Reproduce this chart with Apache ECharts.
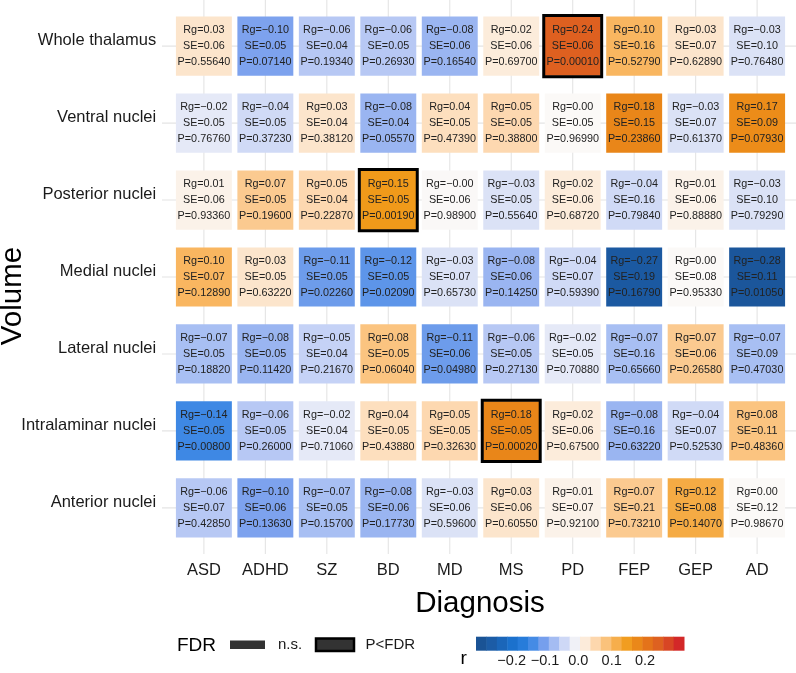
<!DOCTYPE html>
<html><head><meta charset="utf-8">
<script src="https://cdn.jsdelivr.net/npm/echarts@6/dist/echarts.min.js"></script>
<style>html,body{margin:0;padding:0;background:#fff}#c{width:796px;height:673px}</style>
</head><body><div id="c"></div>
<script>
const diagnoses = ['ASD','ADHD','SZ','BD','MD','MS','PD','FEP','GEP','AD'];
const regions = ['Whole thalamus','Ventral nuclei','Posterior nuclei','Medial nuclei','Lateral nuclei','Intralaminar nuclei','Anterior nuclei'];

const rgValues = [
  [0.03,-0.10,-0.06,-0.06,-0.08,0.02,0.24,0.10,0.03,-0.03],
  [-0.02,-0.04,0.03,-0.08,0.04,0.05,0.00,0.18,-0.03,0.17],
  [0.01,0.07,0.05,0.15,-0.001,-0.03,0.02,-0.04,0.01,-0.03],
  [0.10,0.03,-0.11,-0.12,-0.03,-0.08,-0.04,-0.27,0.00,-0.28],
  [-0.07,-0.08,-0.05,0.08,-0.11,-0.06,-0.02,-0.07,0.07,-0.07],
  [-0.14,-0.06,-0.02,0.04,0.05,0.18,0.02,-0.08,-0.04,0.08],
  [-0.06,-0.10,-0.07,-0.08,-0.03,0.03,0.01,0.07,0.12,0.00]
];
const seValues = [
  [0.06,0.05,0.04,0.05,0.06,0.06,0.06,0.16,0.07,0.10],
  [0.05,0.05,0.04,0.04,0.05,0.05,0.05,0.15,0.07,0.09],
  [0.06,0.05,0.04,0.05,0.06,0.05,0.06,0.16,0.06,0.10],
  [0.07,0.05,0.05,0.05,0.07,0.06,0.07,0.19,0.08,0.11],
  [0.05,0.05,0.04,0.05,0.06,0.05,0.05,0.16,0.06,0.09],
  [0.05,0.05,0.04,0.05,0.05,0.05,0.06,0.16,0.07,0.11],
  [0.07,0.06,0.05,0.06,0.06,0.06,0.07,0.21,0.08,0.12]
];
const pValues = [
  [0.55640,0.07140,0.19340,0.26930,0.16540,0.69700,0.00010,0.52790,0.62890,0.76480],
  [0.76760,0.37230,0.38120,0.05570,0.47390,0.38800,0.96990,0.23860,0.61370,0.07930],
  [0.93360,0.19600,0.22870,0.00190,0.98900,0.55640,0.68720,0.79840,0.88880,0.79290],
  [0.12890,0.63220,0.02260,0.02090,0.65730,0.14250,0.59390,0.16790,0.95330,0.01050],
  [0.18820,0.11420,0.21670,0.06040,0.04980,0.27130,0.70880,0.65660,0.26580,0.47030],
  [0.00800,0.26000,0.71060,0.43880,0.32630,0.00020,0.67500,0.63220,0.52530,0.48360],
  [0.42850,0.13630,0.15700,0.17730,0.59600,0.60550,0.92100,0.73210,0.14070,0.98670]
];
// cells passing FDR: [regionIndex, diagnosisIndex]
const fdrSignificant = [[0,6],[2,3],[5,5]];

const colorbarTicks = [-0.2,-0.1,0.0,0.1,0.2];
const colorbarRange = [-0.307, 0.317];
const colorbarBins = 20;

const colorStops = [
  [-0.30,'#1a5090'],[-0.25,'#1c5fac'],[-0.20,'#1a70cc'],[-0.15,'#2e82e1'],
  [-0.10,'#7da2ee'],[-0.05,'#c5d2f6'],[0.00,'#fbf9f7'],[0.05,'#fdd8b0'],
  [0.10,'#f9b660'],[0.15,'#f09a1a'],[0.20,'#e57818'],[0.25,'#dc5a22'],[0.30,'#d32828']
];
function hexToRgb(h){return [parseInt(h.substr(1,2),16),parseInt(h.substr(3,2),16),parseInt(h.substr(5,2),16)];}
function colorFor(v){
  if(v<=colorStops[0][0]) return colorStops[0][1];
  const n=colorStops.length;
  if(v>=colorStops[n-1][0]) return colorStops[n-1][1];
  for(let i=0;i<n-1;i++){
    const a=colorStops[i],b=colorStops[i+1];
    if(v>=a[0]&&v<=b[0]){
      const t=(v-a[0])/(b[0]-a[0]);
      const ca=hexToRgb(a[1]),cb=hexToRgb(b[1]);
      const c=ca.map((x,k)=>Math.round(x+(cb[k]-x)*t));
      return 'rgb('+c.join(',')+')';
    }
  }
}

const FONT = '"Liberation Sans", Arial, sans-serif';
const sigSet = new Set(fdrSignificant.map(s=>s[0]+'_'+s[1]));
const tileData = [];
regions.forEach((r,ri)=>diagnoses.forEach((d,ci)=>{
  tileData.push([ci, ri, rgValues[ri][ci], seValues[ri][ci], pValues[ri][ci], sigSet.has(ri+'_'+ci)?1:0]);
}));
function fmt(v,d){return v.toFixed(d).replace('-','\u2212');}

const GRID_COLOR = '#e4e4e4';
const EXPAND = 0.6;

const chart = echarts.init(document.getElementById('c'), null, {renderer:'canvas'});

// colorbar graphic
const cbLeft = 476, cbRight = 684, cbTop = 636.7, cbH = 14;
const cbScale = v => cbLeft + (v - colorbarRange[0]) / (colorbarRange[1]-colorbarRange[0]) * (cbRight-cbLeft);
const graphics = [];
for(let i=0;i<colorbarBins;i++){
  const v0 = colorbarRange[0] + (colorbarRange[1]-colorbarRange[0])*i/colorbarBins;
  const v1 = colorbarRange[0] + (colorbarRange[1]-colorbarRange[0])*(i+1)/colorbarBins;
  const x0 = cbScale(v0), x1 = cbScale(v1);
  graphics.push({type:'rect', shape:{x:x0, y:cbTop, width:x1-x0+0.5, height:cbH}, style:{fill:colorFor((v0+v1)/2)}, silent:true});
}
colorbarTicks.forEach(t=>{
  graphics.push({type:'text', x:cbScale(t), y:661, style:{text:fmt(t,1), align:'center', verticalAlign:'middle', fontSize:14.5, fontFamily:FONT, fill:'#1a1a1a'}});
});
graphics.push({type:'text', x:460.5, y:659, style:{text:'r', align:'left', verticalAlign:'middle', fontSize:19, fontFamily:FONT, fill:'#000'}});
// FDR legend
graphics.push({type:'text', x:177, y:646, style:{text:'FDR', align:'left', verticalAlign:'middle', fontSize:19, fontFamily:FONT, fill:'#000'}});
graphics.push({type:'rect', shape:{x:230, y:640.5, width:35, height:8.5}, style:{fill:'#333333'}});
graphics.push({type:'text', x:278, y:645, style:{text:'n.s.', align:'left', verticalAlign:'middle', fontSize:15, fontFamily:FONT, fill:'#1a1a1a'}});
graphics.push({type:'rect', shape:{x:316, y:638.5, width:38, height:12.5}, style:{fill:'#333333', stroke:'#000', lineWidth:2.5}});
graphics.push({type:'text', x:365.5, y:645, style:{text:'P<FDR', align:'left', verticalAlign:'middle', fontSize:15, fontFamily:FONT, fill:'#1a1a1a'}});
// axis titles
graphics.push({type:'text', x:13, y:296, rotation:Math.PI/2, style:{text:'Volume', align:'center', verticalAlign:'middle', fontSize:29.5, fontFamily:FONT, fill:'#000'}});
graphics.push({type:'text', x:480, y:604, style:{text:'Diagnosis', align:'center', verticalAlign:'middle', fontSize:29.5, fontFamily:FONT, fill:'#000'}});

chart.setOption({
  animation:false,
  backgroundColor:'#fff',
  grid:{left:173.15, right:8.15, top:7.7, bottom:126.7, containLabel:false},
  xAxis:{type:'category', data:diagnoses, axisLine:{show:false}, axisTick:{show:false}, splitLine:{show:false},
    axisLabel:{fontSize:16.5, fontFamily:FONT, color:'#1a1a1a', margin:16}},
  yAxis:{type:'category', data:regions, inverse:true, axisLine:{show:false}, axisTick:{show:false}, splitLine:{show:false},
    axisLabel:{fontSize:16.5, fontFamily:FONT, color:'#1a1a1a', margin:17, verticalAlign:'bottom', lineHeight:11}},
  graphic:graphics,
  series:[
    {type:'custom', name:'vgrid', silent:true, clip:false, z:1,
     data:diagnoses.map((d,i)=>[i,0]),
     renderItem:(params, api)=>{
       const i=api.value(0);
       const top=api.coord([i,0]); const bot=api.coord([i,regions.length-1]);
       const sy=api.size([1,1])[1];
       return {type:'line', shape:{x1:top[0], y1:top[1]-EXPAND*sy, x2:top[0], y2:bot[1]+EXPAND*sy}, style:{stroke:GRID_COLOR, lineWidth:1.1}};
     }},
    {type:'custom', name:'hgrid', silent:true, clip:false, z:1,
     data:regions.map((r,i)=>[0,i]),
     renderItem:(params, api)=>{
       const i=api.value(1);
       const l=api.coord([0,i]); const r=api.coord([diagnoses.length-1,i]);
       const sx=api.size([1,1])[0];
       return {type:'line', shape:{x1:l[0]-EXPAND*sx-5, y1:l[1], x2:r[0]+EXPAND*sx+3, y2:l[1]}, style:{stroke:GRID_COLOR, lineWidth:1.1}};
     }},
    {type:'custom', name:'tiles', silent:true, clip:false, z:2,
     data:tileData,
     renderItem:(params, api)=>{
       const ci=api.value(0), ri=api.value(1);
       const rg=api.value(2), se=api.value(3), p=api.value(4), sig=api.value(5);
       const c=api.coord([ci,ri]); const sz=api.size([1,1]);
       const w=sz[0]*0.91, h=sz[1]*0.77;
       const children=[{type:'rect', shape:{x:c[0]-w/2, y:c[1]-h/2, width:w, height:h}, style:{fill:colorFor(rg)}}];
       if(sig){
         children.push({type:'rect', shape:{x:c[0]-w/2-1, y:c[1]-h/2-1, width:w+2, height:h+2}, style:{fill:'none', stroke:'#000', lineWidth:3}});
       }
       children.push({type:'text', style:{text:'Rg='+fmt(rg,2)+'\nSE='+fmt(se,2)+'\nP='+fmt(p,5), x:c[0], y:c[1], align:'center', verticalAlign:'middle', fontSize:10.8, lineHeight:16, fontFamily:FONT, fill:'#222'}});
       return {type:'group', children};
     }}
  ]
});
</script></body></html>
